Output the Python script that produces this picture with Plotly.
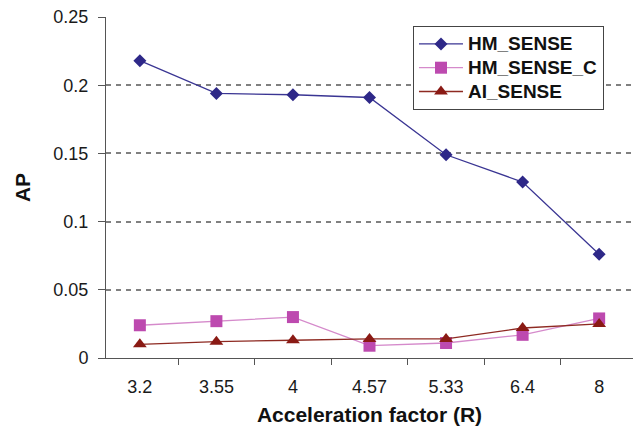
import plotly.graph_objects as go

categories = ["3.2", "3.55", "4", "4.57", "5.33", "6.4", "8"]
hm_sense = [0.218, 0.194, 0.193, 0.191, 0.149, 0.129, 0.076]
hm_sense_c = [0.024, 0.027, 0.030, 0.009, 0.011, 0.017, 0.029]
ai_sense = [0.010, 0.012, 0.013, 0.014, 0.014, 0.022, 0.025]
series_names = ["HM_SENSE", "HM_SENSE_C", "AI_SENSE"]
y_ticks = [0, 0.05, 0.1, 0.15, 0.2, 0.25]
y_tick_labels = ["0", "0.05", "0.1", "0.15", "0.2", "0.25"]

def legend_label(name):
    return '<span style="font-size:19px">' + name + '</span>'

fig = go.Figure()
fig.add_trace(go.Scatter(
    x=categories, y=hm_sense, name=legend_label(series_names[0]), mode="lines+markers",
    line=dict(color="#3A3593", width=1.3),
    marker=dict(symbol="diamond", size=10, color="#2E2888"),
))
fig.add_trace(go.Scatter(
    x=categories, y=hm_sense_c, name=legend_label(series_names[1]), mode="lines+markers",
    line=dict(color="#D58ACB", width=1.3),
    marker=dict(symbol="square", size=12, color="#BD4AAF"),
))
fig.add_trace(go.Scatter(
    x=categories, y=ai_sense, name=legend_label(series_names[2]), mode="lines+markers",
    line=dict(color="#8E2A22", width=1.3),
    marker=dict(symbol="triangle-up", size=12, color="#8A1A14"),
))

font_family = "Liberation Sans, Arial, sans-serif"
fig.update_layout(
    width=636, height=426,
    margin=dict(l=106, r=3, t=17, b=68),
    paper_bgcolor="white", plot_bgcolor="white",
    font=dict(family=font_family, size=18, color="#1a1a1a"),
    showlegend=True,
    legend=dict(
        x=0.5825, y=0.9736, xanchor="left", yanchor="top",
        bordercolor="#444444", borderwidth=1, bgcolor="white",
        font=dict(size=16, family=font_family, color="#111111", weight="bold"),
        tracegroupgap=0, itemwidth=44,
    ),
    xaxis=dict(
        type="category",
        tickson="boundaries",
        ticks="outside", ticklen=6, tickcolor="#555555", tickwidth=1,
        showline=True, linecolor="#555555", linewidth=1,
        showgrid=False, zeroline=False, automargin=False,
        ticklabelstandoff=12,
        title=dict(text="<b>Acceleration factor (R)</b>",
                   font=dict(size=21, family=font_family, color="#111111"),
                   standoff=17),
        tickfont=dict(size=18),
    ),
    yaxis=dict(
        range=[0, 0.25],
        tickvals=y_ticks, ticktext=y_tick_labels,
        ticks="outside", ticklen=7, tickcolor="#555555", tickwidth=1,
        showline=True, linecolor="#555555", linewidth=1,
        showgrid=True, gridcolor="#808080", griddash="5px,5px", gridwidth=1.5,
        zeroline=False, automargin=False,
        ticklabelstandoff=6,
        title=dict(text="<b>AP</b>",
                   font=dict(size=21, family=font_family, color="#111111"),
                   standoff=17),
        tickfont=dict(size=18),
    ),
)

fig.write_html("out.html", config={"displayModeBar": False},
               post_script="document.body.style.margin='0';")
